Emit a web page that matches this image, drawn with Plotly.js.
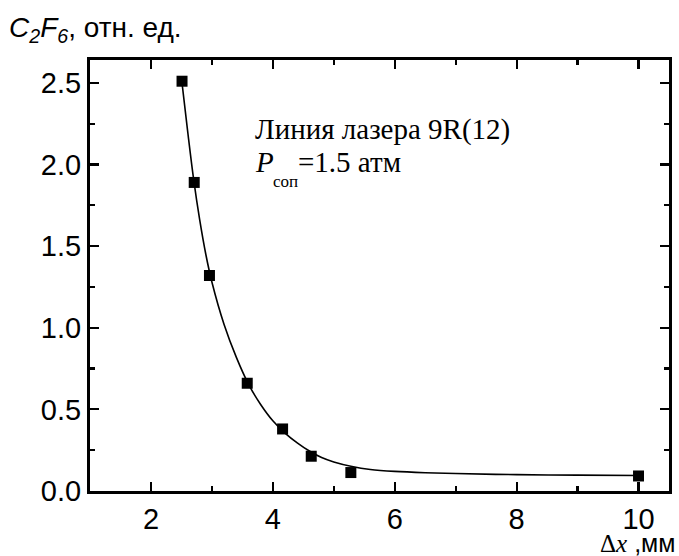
<!DOCTYPE html>
<html>
<head>
<meta charset="utf-8">
<script src="https://cdn.plot.ly/plotly-3.0.1.min.js"></script>
<style>html,body{margin:0;padding:0;background:#fff;}#chart{width:679px;height:556px;}</style>
</head>
<body>
<div id="chart"></div>
<script>
// measured points
const pointX = [2.51, 2.71, 2.96, 3.58, 4.16, 4.63, 5.28, 10.0];
const pointY = [2.51, 1.89, 1.32, 0.66, 0.38, 0.213, 0.113, 0.092];
// fitted curve
const curveX = [2.5, 2.6, 2.7, 2.8, 2.9, 3.0, 3.2, 3.4, 3.6, 3.8, 4.0, 4.2, 4.4, 4.6, 4.8, 5.0, 5.3, 5.6, 6.0, 6.5, 7.0, 8.0, 9.0, 10.0];
const curveY = [2.53, 2.21, 1.91, 1.66, 1.45, 1.28, 1.02, 0.82, 0.655, 0.53, 0.43, 0.355, 0.295, 0.245, 0.205, 0.178, 0.150, 0.132, 0.120, 0.112, 0.107, 0.100, 0.097, 0.095];
const xTicks = [2, 4, 6, 8, 10];
const yTicks = [0.0, 0.5, 1.0, 1.5, 2.0, 2.5];
const yTickText = ['0.0', '0.5', '1.0', '1.5', '2.0', '2.5'];

const sans = 'Arial, "Liberation Sans", sans-serif';
const serif = '"Times New Roman", "Liberation Serif", serif';

const traces = [
  {x: curveX, y: curveY, mode: 'lines', line: {color: '#000', width: 1.6, shape: 'spline', smoothing: 1}, hoverinfo: 'skip', showlegend: false},
  {x: pointX, y: pointY, mode: 'markers', marker: {symbol: 'square', size: 11, color: '#000'}, showlegend: false}
];

const axisCommon = {
  showgrid: false, zeroline: false, showline: true, linecolor: '#000', linewidth: 3,
  mirror: 'ticks', ticks: 'inside', ticklen: 9, tickwidth: 2.2, tickcolor: '#000',
  tickfont: {family: sans, size: 29, color: '#000'}
};

const layout = {
  width: 679, height: 556,
  margin: {l: 90, r: 10, t: 60, b: 65},
  paper_bgcolor: '#fff', plot_bgcolor: '#fff',
  xaxis: Object.assign({}, axisCommon, {
    range: [1, 10.5], tickmode: 'array', tickvals: xTicks, ticktext: xTicks.map(String),
    minor: {ticks: 'inside', ticklen: 5, tickwidth: 2.2, tickcolor: '#000', dtick: 1, tick0: 1, showgrid: false}
  }),
  yaxis: Object.assign({}, axisCommon, {
    range: [0, 2.64], tickmode: 'array', tickvals: yTicks, ticktext: yTickText,
    minor: {ticks: 'inside', ticklen: 5, tickwidth: 2.2, tickcolor: '#000', dtick: 0.25, tick0: 0, showgrid: false}
  }),
  annotations: [
    {xref: 'paper', yref: 'paper', x: -0.143, y: 1.0, yshift: 31, xanchor: 'left', yanchor: 'middle', showarrow: false,
     text: '<i>C</i><sub><i>2</i></sub><i>F</i><sub><i>6</i></sub>, отн. ед.', font: {family: sans, size: 28, color: '#000'}},
    {xref: 'paper', yref: 'paper', x: 0.282, y: 0.838, xanchor: 'left', yanchor: 'middle', showarrow: false,
     text: 'Линия лазера 9R(12)', font: {family: serif, size: 29, color: '#000'}},
    {xref: 'paper', yref: 'paper', x: 0.282, y: 0.763, xanchor: 'left', yanchor: 'middle', showarrow: false,
     text: '<i>P</i>', font: {family: serif, size: 29, color: '#000'}},
    {xref: 'paper', yref: 'paper', x: 0.313, y: 0.719, xanchor: 'left', yanchor: 'middle', showarrow: false,
     text: 'соп', font: {family: serif, size: 17, color: '#000'}},
    {xref: 'paper', yref: 'paper', x: 0.356, y: 0.763, xanchor: 'left', yanchor: 'middle', showarrow: false,
     text: '=1.5 атм', font: {family: serif, size: 29, color: '#000'}},
    {xref: 'paper', yref: 'paper', x: 1.014, y: 0, yshift: -52, xanchor: 'right', yanchor: 'middle', showarrow: false,
     text: '<span style="font-family:\'Times New Roman\', \'Liberation Serif\', serif">Δ<i>x</i></span> ,мм', font: {family: sans, size: 25, color: '#000'}}
  ]
};

Plotly.newPlot('chart', traces, layout, {displayModeBar: false, staticPlot: true});
</script>
</body>
</html>
